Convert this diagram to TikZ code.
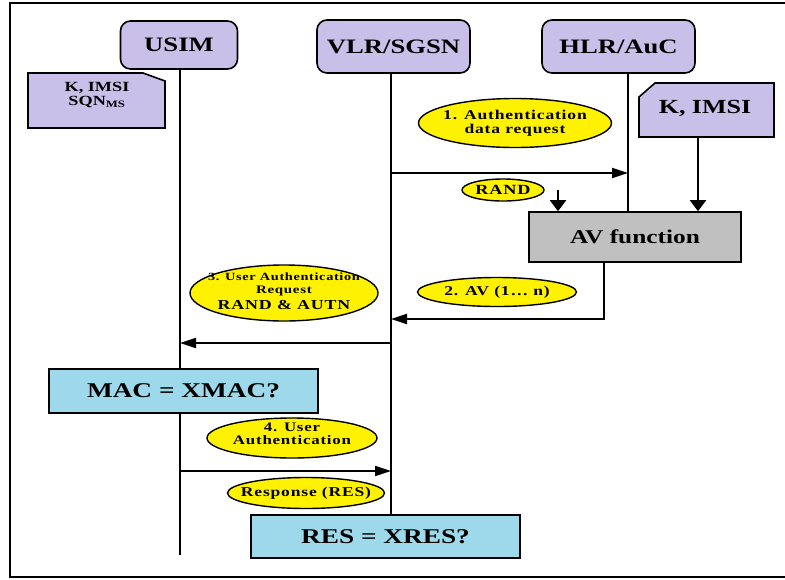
\documentclass[tikz,border=0pt]{standalone}
\usepackage{fontspec}
\setmainfont{Liberation Serif}[FakeStretch=1.3]
\newfontfamily\ellfont{Liberation Serif}[FakeStretch=1.3,LetterSpace=6]
\usetikzlibrary{shapes.geometric,arrows.meta}
\definecolor{lav}{RGB}{200,192,232}
\definecolor{lblue}{RGB}{157,217,234}
\definecolor{ylw}{RGB}{255,242,0}
\definecolor{gry}{RGB}{192,192,192}
\tikzset{
  actor/.style={draw=black,line width=1.6pt,fill=lav,rounded corners=10pt,inner sep=0pt,font=\bfseries\fontsize{20.5}{21}\selectfont},
  procbox/.style={draw=black,line width=1.6pt,inner sep=0pt,font=\bfseries\fontsize{21}{22}\selectfont},
  bubble/.style={ellipse,draw=black,line width=1.4pt,fill=ylw,inner sep=0pt},
  btext/.style={inner sep=0pt,align=center,font=\ellfont\bfseries},
  life/.style={line width=2pt},
  msg/.style={line width=1.8pt,-{Triangle[length=16pt,width=10pt]}},
  downarr/.style={line width=2pt,-{Triangle[length=11pt,width=16pt]}},
  notefill/.style={draw=black,line width=1.6pt,fill=lav}
}
\begin{document}
\begin{tikzpicture}[x=1pt,y=-1pt]
\useasboundingbox (0,0) rectangle (785,579);
% frame
\draw[line width=2.6pt] (785,3) -- (10,3) -- (10,577) -- (785,577);
% actors
\node[actor,minimum width=117pt,minimum height=48pt] (usim) at (179,45) {USIM};
\node[actor,minimum width=153pt,minimum height=53pt] (vlr) at (393.5,46.5) {VLR/SGSN};
\node[actor,minimum width=153pt,minimum height=53pt] (hlr) at (618.5,46.5) {HLR/AuC};
% notes
\draw[notefill] (28,73) -- (143,73) -- (165,81) -- (165,128) -- (28,128) -- cycle;
\node[align=center,font=\bfseries\fontsize{14}{14}\selectfont,inner sep=0pt] (noteL) at (97,95) {K, IMSI\\SQN\textsubscript{MS}};
\draw[notefill] (655,83) -- (774,83) -- (774,137) -- (639,137) -- (639,97) -- cycle;
\node[font=\bfseries\fontsize{20}{21}\selectfont,inner sep=0pt] (noteR) at (705,108) {K, IMSI};
% boxes
\node[procbox,fill=gry,minimum width=212pt,minimum height=50pt,font=\bfseries\fontsize{19.5}{20}\selectfont] (av) at (635,237) {AV function};
\node[procbox,fill=lblue,minimum width=269pt,minimum height=44pt] (mac) at (183.5,391) {MAC = XMAC?};
\node[procbox,fill=lblue,minimum width=269pt,minimum height=43pt] (res) at (385.5,536.5) {RES = XRES?};
% lifeline coordinates
\coordinate (uTop) at (180,68);
\coordinate (uBot) at (180,555);
\coordinate (vTop) at (391,73);
\coordinate (hTop) at (628,73);
% lifelines
\draw[life] (uTop) -- (mac.north -| uTop);
\draw[life] (mac.south -| uTop) -- (uBot);
\draw[life] (vTop) -- (res.north -| vTop);
\draw[life] (hTop) -- (av.north -| hTop);
% bubbles
\node[bubble,minimum width=193pt,minimum height=49pt] (b1) at (515,123) {};
\node[btext,font=\ellfont\bfseries\fontsize{13.5}{13.5}\selectfont] (b1t) at (b1.center) {1. Authentication\\data request};
\node[bubble,minimum width=82pt,minimum height=22pt] (brand) at (503,190) {};
\node[btext,font=\ellfont\bfseries\fontsize{14}{14}\selectfont] (brandt) at (brand.center) {RAND};
\node[bubble,minimum width=159pt,minimum height=29pt] (b2) at (497,292) {};
\node[btext,font=\ellfont\bfseries\fontsize{13.5}{14}\selectfont] (b2t) at (b2.center) {2. AV (1\dots\ n)};
\node[bubble,minimum width=188pt,minimum height=56pt] (b3) at (284,293) {};
\node[btext,font=\ellfont\bfseries\fontsize{11}{11}\selectfont] (b3t1) at (284,277) {3. User Authentication};
\node[btext,font=\ellfont\bfseries\fontsize{11.5}{12}\selectfont] (b3t2) at (284,291) {Request};
\node[btext,font=\ellfont\bfseries\fontsize{13.75}{14}\selectfont] (b3t3) at (284,305) {RAND \& AUTN};
\node[bubble,minimum width=170pt,minimum height=40pt] (b4) at (292,438) {};
\node[btext,font=\ellfont\bfseries\fontsize{13}{13}\selectfont] (b4t) at ([yshift=4pt]b4.center) {4. User\\Authentication};
\node[bubble,minimum width=157pt,minimum height=31pt] (b5) at (306,493) {};
\node[btext,font=\ellfont\bfseries\fontsize{13.5}{14}\selectfont] (b5t) at (b5.center) {Response (RES)};
% messages
\coordinate (m1) at (0,173);
\draw[msg] (vTop |- m1) -- (hTop |- m1);
\coordinate (randTop) at (558,190);
\draw[downarr] (randTop) -- (randTop |- av.north);
\coordinate (kstart) at (698,137);
\draw[downarr] (kstart) -- (kstart |- av.north);
\coordinate (m2) at (0,319);
\coordinate (avOut) at (604,0);
\draw[msg] (av.south -| avOut) -- (avOut |- m2) -- (vTop |- m2);
\coordinate (m3) at (0,343);
\draw[msg] (vTop |- m3) -- (uTop |- m3);
\coordinate (m4) at (0,471);
\draw[msg] (uTop |- m4) -- (vTop |- m4);
\end{tikzpicture}
\end{document}
